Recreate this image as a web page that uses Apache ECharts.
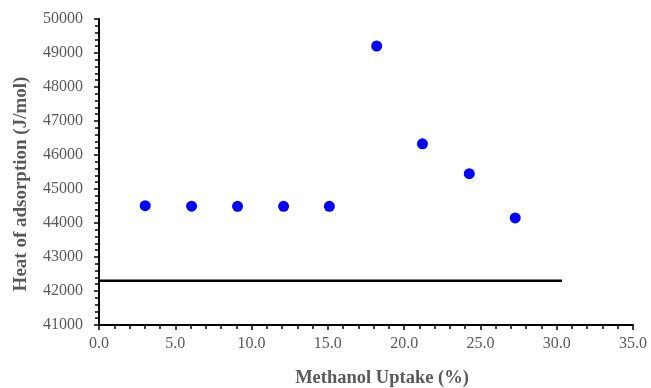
<!DOCTYPE html>
<html><head><meta charset="utf-8">
<script src="https://cdn.jsdelivr.net/npm/echarts@6/dist/echarts.min.js"></script>
<style>html,body{margin:0;padding:0;background:#fff}#c{width:651px;height:388px}</style>
</head><body><div id="c"></div>
<script>
const uptake = [3.03, 6.07, 9.08, 12.1, 15.1, 18.2, 21.2, 24.27, 27.28];
const heat = [44510, 44495, 44490, 44490, 44490, 49206, 46330, 45450, 44150];
const refLineX = [0, 30.35];
const refLineY = [42300, 42300];
const xTitle = 'Methanol Uptake (%)';
const yTitle = 'Heat of adsorption (J/mol)';

const font = '"Liberation Serif","Times New Roman",serif';
const chart = echarts.init(document.getElementById('c'));
chart.setOption({
  animation: false,
  grid: {left: 99, right: 18, top: 19, bottom: 63},
  xAxis: {
    type: 'value', min: 0, max: 35, interval: 5,
    axisLine: {show: true, onZero: false, lineStyle: {color: '#000', width: 2}},
    axisTick: {show: true, inside: false, length: 5, lineStyle: {color: '#000', width: 1.5}},
    minorTick: {show: true, splitNumber: 5, length: 4, lineStyle: {color: '#000', width: 1.5}},
    splitLine: {show: false},
    axisLabel: {color: '#595959', fontFamily: font, fontSize: 16, margin: 11,
      formatter: v => v.toFixed(1)}
  },
  yAxis: {
    type: 'value', min: 41000, max: 50000, interval: 1000,
    axisLine: {show: true, onZero: false, lineStyle: {color: '#000', width: 2}},
    axisTick: {show: true, inside: false, length: 5, lineStyle: {color: '#000', width: 1.5}},
    minorTick: {show: true, splitNumber: 5, length: 4, lineStyle: {color: '#000', width: 1.5}},
    splitLine: {show: false},
    axisLabel: {color: '#595959', fontFamily: font, fontSize: 16, margin: 16,
      formatter: v => String(v)}
  },
  graphic: [
    {type: 'text', x: 382, y: 378,
      style: {text: xTitle, font: 'bold 18.5px ' + font, fill: '#595959', align: 'center', verticalAlign: 'middle'}},
    {type: 'text', x: 21, y: 184, rotation: Math.PI/2,
      style: {text: yTitle, font: 'bold 19px ' + font, fill: '#595959', align: 'center', verticalAlign: 'middle'}}
  ],
  series: [
    {type: 'line', data: refLineX.map((x, i) => [x, refLineY[i]]), symbol: 'none',
      lineStyle: {color: '#000', width: 2.5}, z: 2},
    {type: 'scatter', data: uptake.map((x, i) => [x, heat[i]]), symbol: 'circle', symbolSize: 11,
      itemStyle: {color: '#0000FF', opacity: 1}, z: 3}
  ]
});
</script></body></html>
